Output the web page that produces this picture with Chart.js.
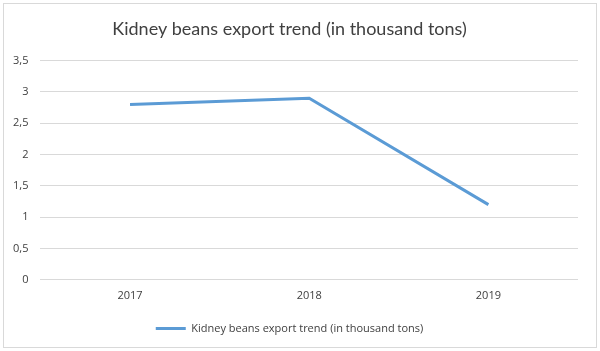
<!DOCTYPE html>
<html>
<head>
<meta charset="utf-8">
<script src="https://cdn.jsdelivr.net/npm/chart.js@4/dist/chart.umd.min.js"></script>
<style>
  html, body { margin: 0; padding: 0; background: #fff; }
  #wrap { width: 600px; height: 351px; position: relative; }
</style>
</head>
<body>
<div id="wrap"><canvas id="chart"></canvas></div>
<script>
const years = ["2017", "2018", "2019"];
const exportValues = [2.8, 2.9, 1.2];
const seriesName = "Kidney beans export trend (in thousand tons)";
const chartTitle = "Kidney beans export trend (in thousand tons)";

const frame = {
    id: "frame",
    beforeDraw(chart) {
        const ctx = chart.ctx;
        ctx.save();
        ctx.fillStyle = "#fff";
        ctx.fillRect(0, 0, chart.width, chart.height);
        ctx.strokeStyle = "#d9d9d9";
        ctx.lineWidth = 1;
        ctx.strokeRect(3.5, 3.5, chart.width - 7, chart.height - 7);
        ctx.restore();
    }
};

const ctx = document.getElementById("chart").getContext("2d");
new Chart(ctx, {
    type: "line",
    data: {
        labels: years,
        datasets: [{
            label: seriesName,
            data: exportValues,
            borderColor: "#5b9bd5",
            backgroundColor: "#5b9bd5",
            borderWidth: 3,
            pointRadius: 0,
            tension: 0,
            fill: false
        }]
    },
    options: {
        responsive: true,
        maintainAspectRatio: false,
        animation: false,
        layout: { padding: { left: 1, right: 22, top: 10, bottom: 7 } },
        plugins: {
            title: {
                display: true,
                text: chartTitle,
                color: "#404040",
                font: { family: "Lato", size: 18, weight: "normal" },
                padding: { top: 8, bottom: 21 }
            },
            legend: {
                position: "bottom",
                labels: {
                    usePointStyle: true,
                    pointStyle: "line",
                    pointStyleWidth: 30,
                    color: "#404040",
                    font: { family: "Open Sans", size: 11 },
                    padding: 12
                }
            },
            tooltip: { enabled: false }
        },
        scales: {
            x: {
                offset: true,
                grid: { display: false, drawTicks: false },
                border: { display: false },
                ticks: { color: "#404040", font: { family: "Open Sans", size: 11 }, padding: 9 }
            },
            y: {
                min: 0,
                max: 3.5,
                grid: { color: "#d9d9d9", drawTicks: false },
                border: { display: false },
                ticks: {
                    stepSize: 0.5,
                    color: "#404040",
                    font: { family: "Open Sans", size: 11 },
                    padding: 12,
                    callback: v => String(v).replace(".", ",")
                }
            }
        }
    },
    plugins: [frame]
});
</script>
</body>
</html>
